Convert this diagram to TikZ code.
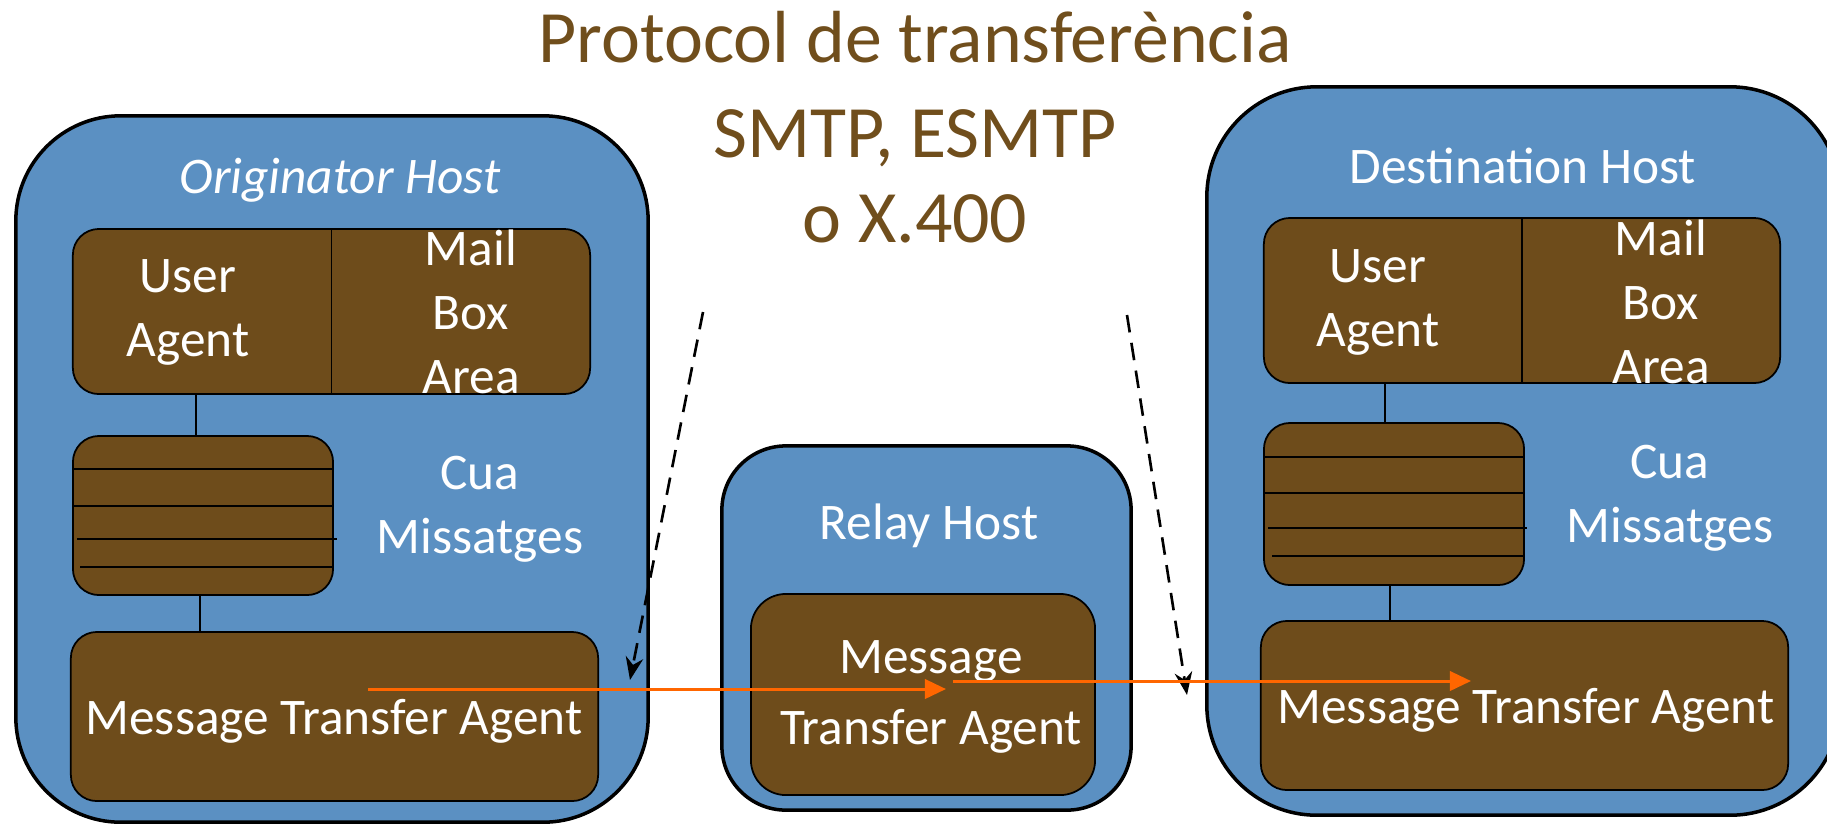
\documentclass[tikz,border=0pt]{standalone}
\usepackage{fontspec}
\setmainfont{Carlito}
\usetikzlibrary{arrows.meta}

\definecolor{hostblue}{RGB}{91,144,194}
\definecolor{boxbrown}{RGB}{110,76,27}
\definecolor{titlebrown}{RGB}{112,78,28}
\definecolor{flowred}{RGB}{255,102,0}

\tikzset{
  host/.style={draw=black, line width=1pt, fill=hostblue, rounded corners=#1, inner sep=0pt},
  agentbox/.style={draw=black, line width=0.5pt, fill=boxbrown, rounded corners=0.26cm, inner sep=0pt},
  lbl/.style={text=white, align=center, inner sep=0pt, font=\fontsize{14.6}{18.2}\selectfont},
  flow/.style={draw=flowred, line width=0.85pt, -{Triangle[length=6pt,width=5.5pt]}},
  proto/.style={dash pattern=on 5pt off 3pt, line width=0.75pt, -{Stealth[length=6.5pt,width=5pt]}}
}

\begin{document}
\begin{tikzpicture}[x=0.01cm, y=-0.01cm]
    \useasboundingbox (0,0) rectangle (1827,826);

    % Titol
    \node[text=titlebrown, align=center, inner sep=0pt, anchor=north,
          font=\fontsize{21}{24}\selectfont] (titol) at (915,11)
          {Protocol de transferència\\[3pt] SMTP, ESMTP\\ o X.400};

    % Originator host
    \node[host=1.05cm, minimum width=6.32cm, minimum height=7.06cm] (orig) at (332,469) {};
    \node[lbl, font=\fontsize{14.6}{18.2}\selectfont\itshape] (origtit) at (340,180) {Originator Host};
    \node[agentbox, minimum width=5.17cm, minimum height=1.65cm] (ua1) at (331.5,311.5) {};
    \draw[line width=0.5pt] (ua1.north) -- (ua1.south);
    \node[lbl] (ualbl1) at (188,312) {User\\Agent};
    \node[lbl] (mbox1) at (471,312) {Mail\\Box\\Area};
    \node[agentbox, minimum width=2.60cm, minimum height=1.59cm] (q1) at (203,515.5) {};
    \draw[line width=0.5pt] (73,469) -- (333,469);
    \draw[line width=0.5pt] (73,506) -- (333,506);
    \draw[line width=0.5pt] (77,539) -- (337,539);
    \draw[line width=0.5pt] (80,567) -- (333,567);
    \node[lbl] (cua1) at (480,509) {Cua\\Missatges};
    \node[agentbox, minimum width=5.27cm, minimum height=1.69cm] (mta1) at (334.5,716.5) {};
    \node[lbl] (mtalbl1) at (334,721) {Message Transfer Agent};
    \draw[line width=0.5pt] ([xshift=-0.07cm]q1.north) -- ([xshift=-0.07cm]q1.north |- ua1.south);
    \draw[line width=0.5pt] ([xshift=-0.03cm]q1.south) -- ([xshift=-0.03cm]q1.south |- mta1.north);

    % Relay host
    \node[host=0.64cm, minimum width=4.09cm, minimum height=3.64cm] (relay) at (926.5,628) {};
    \node[lbl] (relaytit) at (929,526) {Relay Host};
    \node[agentbox, rounded corners=0.35cm, minimum width=3.44cm, minimum height=2.01cm] (mta2) at (923,694.5) {};
    \node[lbl] (mtalbl2) at (931,697) {Message\\[2pt]Transfer Agent};

    % Destination host
    \node[host=1.1cm, minimum width=6.33cm, minimum height=7.28cm] (dest) at (1523.5,451) {};
    \node[lbl] (desttit) at (1523,166) {Destination Host};
    \node[agentbox, minimum width=5.16cm, minimum height=1.65cm] (ua2) at (1522,300.5) {};
    \draw[line width=0.5pt] (ua2.north) -- (ua2.south);
    \node[lbl] (ualbl2) at (1378,302) {User\\Agent};
    \node[lbl] (mbox2) at (1661,302) {Mail\\Box\\Area};
    \node[agentbox, minimum width=2.60cm, minimum height=1.62cm] (q2) at (1394,504) {};
    \draw[line width=0.5pt] (1264,457) -- (1524,457);
    \draw[line width=0.5pt] (1264,493) -- (1524,493);
    \draw[line width=0.5pt] (1268,528) -- (1527,528);
    \draw[line width=0.5pt] (1272,556) -- (1524,556);
    \node[lbl] (cua2) at (1670,498) {Cua\\Missatges};
    \node[agentbox, minimum width=5.27cm, minimum height=1.69cm] (mta3) at (1524.5,705.5) {};
    \node[lbl] (mtalbl3) at (1526,710) {Message Transfer Agent};
    \draw[line width=0.5pt] ([xshift=-0.09cm]q2.north) -- ([xshift=-0.09cm]q2.north |- ua2.south);
    \draw[line width=0.5pt] ([xshift=-0.04cm]q2.south) -- ([xshift=-0.04cm]q2.south |- mta3.north);

    % Fletxes
    \coordinate (p1) at (703,312);
    \coordinate (p2) at (630,680);
    \coordinate (p3) at (1127,315);
    \coordinate (p4) at (1187,695);
    \draw[proto] (p1) -- (p2);
    \draw[proto] (p3) -- (p4);

    \coordinate (f1) at (368,689);
    \coordinate (f2) at (946,689);
    \coordinate (f3) at (953,681);
    \coordinate (f4) at (1471,681);
    \draw[flow] (f1) -- (f2);
    \draw[flow] (f3) -- (f4);
\end{tikzpicture}
\end{document}
